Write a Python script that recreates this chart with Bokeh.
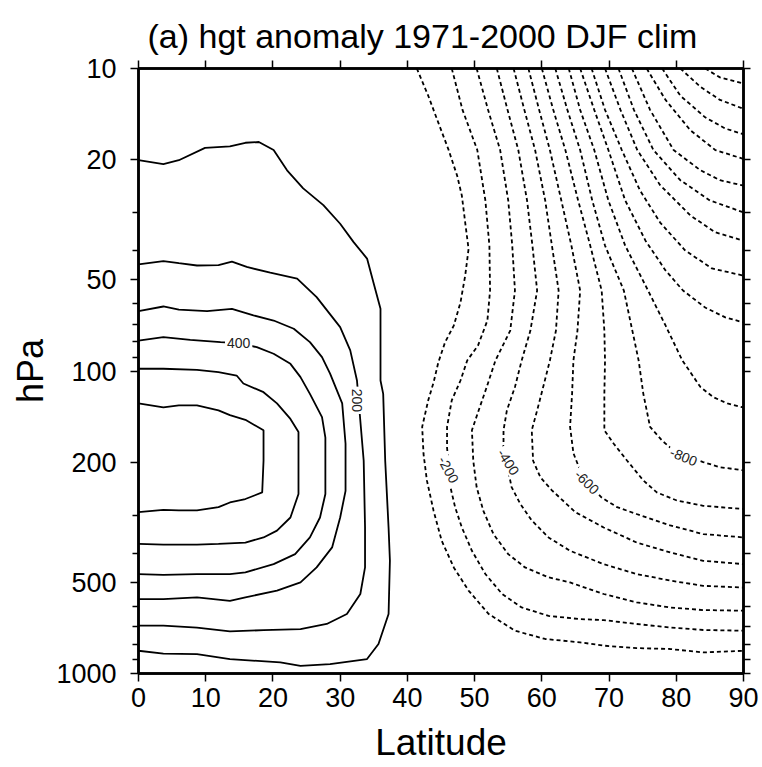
from bokeh.plotting import figure
from bokeh.models import (Range1d, FixedTicker, LinearAxis, LogAxis, ColumnDataSource,
                          PrintfTickFormatter)
from bokeh.embed import file_html
from bokeh.resources import INLINE
from bokeh.core.properties import value

# ---------------- data ----------------
x_ticks = [0, 10, 20, 30, 40, 50, 60, 70, 80, 90]
y_ticks = [10, 20, 50, 100, 200, 500, 1000]
y_minor = [30, 40, 60, 70, 80, 90, 300, 400, 600, 700, 800, 900]

# positive contours (solid) : latitude / pressure (hPa)
lat_p100 = [0, 3.7, 6.0, 9.9, 13.6, 15.9, 17.9, 20.1, 22.1, 24.5, 27.5, 30.0, 32.0, 34.0, 35.0, 36.0, 36.0,
            36.4, 36.7, 37.2, 37.4, 37.2, 35.7, 34.0, 28.5, 24.1, 21.1, 13.6, 8.7, 3.7, 0]
hpa_p100 = [20.1, 20.7, 20.1, 18.3, 18.1, 17.6, 17.5, 18.6, 21.7, 24.9, 28.3, 32.6, 37.5, 42.5, 51.5, 62.3, 107.5,
            119, 198, 329, 424, 636, 799, 896, 931, 943, 919, 896, 863, 859, 841]
lat_p200 = [0, 3.7, 6.0, 8.7, 11.9, 13.9, 16.1, 19.6, 23.6, 26.5, 30.0, 31.5, 32.5, 33.0, 33.5, 33.7, 33.7,
            33.0, 31.0, 28.0, 24.1, 18.6, 13.6, 8.7, 3.7, 0]
hpa_p200 = [44.4, 43.3, 44.0, 44.8, 44.7, 43.5, 45.3, 47.3, 49.5, 57.0, 71.6, 85.5, 107.5, 146, 198, 329, 446,
            546, 636, 686, 713, 719, 726, 705, 695, 695]
lat_p300 = [0, 3.7, 6.0, 10.2, 13.9, 17.1, 20.1, 23.1, 25.5, 27.3, 28.5, 30.3, 30.8, 30.8, 30.0, 28.8, 26.5,
            24.1, 20.6, 15.9, 13.6, 8.7, 3.7, 0]
hpa_p300 = [63.4, 61.2, 62.7, 63.4, 62.3, 65.5, 68.1, 72.5, 80.3, 90.0, 102, 128, 174, 249, 305, 383, 446,
            500, 532, 560, 575, 560, 568, 568]
lat_p400 = [0, 3.7, 7.7, 12.2, 14.9, 17.6, 20.1, 22.6, 24.1, 25.5, 27.3, 27.8, 27.8, 27.0, 25.5, 23.3, 20.1,
            15.9, 13.6, 8.7, 3.7, 0]
hpa_p400 = [79.3, 77.3, 78.9, 80.3, 80.9, 83.4, 87.7, 94.7, 104.8, 119, 142, 166, 255, 305, 355, 403, 435,
            463, 469, 469, 472, 469]
lat_p500 = [0, 3.7, 8.7, 11.9, 14.6, 15.6, 18.6, 20.6, 22.6, 23.8, 23.8, 22.6, 20.6, 18.6, 15.9, 11.9, 8.7, 3.7, 0]
hpa_p500 = [98.3, 98.3, 99.1, 100.9, 103.5, 110, 117.5, 128, 144, 159, 255, 305, 337, 355, 369, 373, 375, 375, 373]
lat_p600 = [0, 3.7, 6.0, 8.7, 11.9, 13.6, 15.9, 18.6, 18.6, 18.4, 15.9, 13.6, 11.9, 8.7, 6.0, 3.7, 0]
hpa_p600 = [128, 132, 130, 130, 135, 140, 145, 157, 198, 252, 265, 272, 282, 289, 289, 288, 293]

# negative contours (dashed)
lat_n100 = [41.4, 43.1, 44.6, 46.1, 47.4, 48.1, 48.6, 49.1, 48.6, 47.9, 46.9, 45.6, 44.6, 43.9, 43.1, 42.2, 42.4,
            42.9, 43.9, 45.1, 46.9, 49.1, 52.1, 56.0, 60.5, 65.7, 69.2, 74.1, 79.1, 84.0, 90]
hpa_n100 = [10, 12.3, 15.1, 18.5, 22.6, 26.3, 32.3, 39.5, 48.4, 59.3, 70.8, 80.4, 93.7, 109, 125, 153, 188,
            230, 290, 364, 446, 532, 636, 722, 769, 789, 809, 824, 830, 852, 841]
lat_n200 = [46.6, 48.2, 50.4, 51.6, 52.2, 52.3, 51.9, 50.5, 48.9, 47.9, 46.6, 45.9, 45.9, 46.4, 47.1, 48.1, 49.6,
            51.6, 54.1, 57.0, 61.0, 65.7, 69.2, 74.1, 79.1, 84.0, 90]
hpa_n200 = [10, 13.7, 18.6, 27.3, 38.5, 54.2, 68.1, 82.4, 92.3, 107.5, 125, 153, 179, 242, 282, 329, 393,
            469, 546, 605, 645, 661, 666, 686, 705, 718, 722]
lat_n300 = [50.3, 52.0, 53.8, 55.0, 55.6, 56.0, 55.3, 53.1, 51.8, 50.6, 49.6, 49.8, 50.3, 51.3, 52.8, 55.0, 57.5,
            61.0, 64.2, 69.2, 74.1, 79.1, 84.0, 90]
hpa_n300 = [10, 13.7, 18.6, 27.3, 38.5, 54.2, 73.5, 92.3, 113, 135, 157, 198, 242, 290, 346, 403, 446,
            481, 500, 546, 582, 605, 617, 620]
lat_n400 = [53.3, 54.9, 56.5, 57.8, 58.6, 59.3, 58.3, 57.0, 56.0, 54.8, 54.3, 54.3, 55.5, 56.8, 58.5, 61.0, 64.2,
            69.2, 74.1, 79.1, 84.0, 90]
hpa_n400 = [10, 13.7, 18.6, 27.3, 38.5, 54.2, 73.5, 92.3, 113, 135, 157, 179, 242, 275, 312, 355, 393,
            435, 469, 493, 513, 520]
lat_n500 = [55.8, 57.4, 59.0, 60.5, 61.5, 62.5, 62.1, 61.2, 60.2, 59.3, 58.5, 58.7, 59.8, 61.5, 65.0, 69.2, 74.1,
            79.1, 84.0, 90]
hpa_n500 = [10, 13.7, 18.6, 27.3, 38.5, 54.2, 73.5, 92.3, 113, 135, 157, 198, 225, 248, 293, 329, 369,
            398, 424, 435]
lat_n600 = [58.0, 59.6, 61.2, 62.9, 64.4, 65.7, 65.3, 64.7, 64.5, 64.2, 64.7, 65.7, 66.7, 68.9, 71.2, 74.1, 79.1,
            84.0, 90]
hpa_n600 = [10, 13.7, 18.6, 27.3, 38.5, 54.2, 73.5, 92.3, 119, 153, 187, 213, 233, 262, 282, 297, 324, 346, 355]
lat_n700 = [60.0, 61.7, 63.5, 65.4, 67.2, 68.9, 69.3, 69.4, 69.3, 69.3, 70.7, 72.7, 75.1, 77.1, 80.1, 84.0, 90]
hpa_n700 = [10, 13.7, 18.6, 27.3, 38.5, 54.2, 73.5, 92.3, 119, 157, 174, 198, 230, 252, 268, 279, 286]
lat_n800 = [62.0, 63.8, 65.7, 67.5, 69.4, 72.2, 73.3, 74.4, 75.1, 76.1, 77.9, 79.1, 81.1, 84.0, 86.5, 90]
hpa_n800 = [10, 13.7, 18.6, 27.3, 38.5, 54.2, 70.7, 92.3, 119, 153, 170, 179, 190, 200, 208, 213]
lat_n900 = [64.0, 65.7, 67.8, 69.9, 72.4, 75.8, 78.4, 80.9, 83.6, 85.5, 87.6, 90]
hpa_n900 = [10, 13.7, 18.6, 27.3, 38.5, 54.2, 70.7, 92.3, 113, 122, 128, 132]
lat_n1000 = [65.7, 67.8, 69.9, 72.4, 75.4, 78.4, 81.0, 84.3, 87.3, 90]
hpa_n1000 = [10, 13.7, 18.6, 27.3, 37.0, 46.5, 54.2, 61.7, 66.5, 69.1]
lat_n1100 = [67.4, 69.4, 71.9, 74.6, 77.6, 81.3, 85.3, 90]
hpa_n1100 = [10, 13.7, 18.6, 25.3, 32.3, 39.9, 45.8, 48.4]
lat_n1200 = [69.4, 71.7, 74.2, 77.6, 82.1, 85.8, 90]
hpa_n1200 = [10, 13.7, 18.6, 24.3, 30.6, 34.8, 37.1]
lat_n1300 = [71.4, 73.7, 76.6, 80.6, 85.0, 90]
hpa_n1300 = [10, 13.7, 18.6, 23.4, 27.3, 29.9]
lat_n1400 = [73.4, 76.1, 79.6, 83.6, 86.5, 90]
hpa_n1400 = [10, 13.7, 18.6, 21.7, 23.4, 24.4]
lat_n1500 = [75.6, 78.4, 82.1, 85.8, 90]
hpa_n1500 = [10, 12.7, 16.0, 18.6, 19.9]
lat_n1600 = [77.9, 80.6, 84.3, 87.3, 90]
hpa_n1600 = [10, 12.3, 14.5, 15.8, 16.5]
lat_n1700 = [80.6, 83.6, 86.5, 90]
hpa_n1700 = [10, 11.5, 12.7, 13.6]
lat_n1800 = [84.3, 86.5, 90]
hpa_n1800 = [10, 10.7, 11.2]

# contour labels
label_text = ["400", "200", "-200", "-400", "-600", "-800"]
label_lat = [14.9, 32.5, 46.1, 55.0, 66.7, 81.1]
label_hpa = [80.9, 125, 212, 200, 233, 192]
label_angle = [0, -90, -62, -57, -45, -22]

pos_lat = [lat_p100, lat_p200, lat_p300, lat_p400, lat_p500, lat_p600]
pos_hpa = [hpa_p100, hpa_p200, hpa_p300, hpa_p400, hpa_p500, hpa_p600]
neg_lat = [lat_n100, lat_n200, lat_n300, lat_n400, lat_n500, lat_n600, lat_n700, lat_n800, lat_n900,
           lat_n1000, lat_n1100, lat_n1200, lat_n1300, lat_n1400, lat_n1500, lat_n1600, lat_n1700, lat_n1800]
neg_hpa = [hpa_n100, hpa_n200, hpa_n300, hpa_n400, hpa_n500, hpa_n600, hpa_n700, hpa_n800, hpa_n900,
           hpa_n1000, hpa_n1100, hpa_n1200, hpa_n1300, hpa_n1400, hpa_n1500, hpa_n1600, hpa_n1700, hpa_n1800]

FONT = "Liberation Sans"

p = figure(width=762, height=767, x_range=Range1d(0, 90), y_range=Range1d(1000, 10),
           y_axis_type="log", output_backend="svg", toolbar_location=None,
           min_border_left=138, min_border_right=19, min_border_top=68, min_border_bottom=94,
           title="(a) hgt anomaly 1971-2000 DJF clim")
p.xgrid.visible = False
p.ygrid.visible = False
p.outline_line_color = "black"
p.outline_line_width = 2.5
p.background_fill_color = "white"
p.border_fill_color = "white"

p.title.text_font = FONT
p.title.text_font_size = "34px"
p.title.text_font_style = "normal"
p.title.text_color = "black"
p.title.align = "left"
p.title.offset = 9
p.title.standoff = 12


def style_axis(ax):
    ax.axis_line_width = 2.5
    ax.axis_line_color = "black"
    ax.major_tick_in = 0
    ax.major_tick_out = 8
    ax.minor_tick_in = 0
    ax.minor_tick_out = 6
    ax.major_tick_line_width = 1.5
    ax.minor_tick_line_width = 1.5
    ax.major_tick_line_color = "black"
    ax.minor_tick_line_color = "black"
    ax.major_label_text_font = FONT
    ax.major_label_text_color = "black"
    ax.major_label_text_font_size = "27px"


xb = p.xaxis[0]
xb.ticker = FixedTicker(ticks=x_ticks)
style_axis(xb)
xb.major_label_standoff = 6
xb.axis_label = "Latitude"
xb.axis_label_text_font = FONT
xb.axis_label_text_font_size = "37px"
xb.axis_label_text_font_style = "normal"
xb.axis_label_text_color = "black"
xb.axis_label_standoff = 12

yl = p.yaxis[0]
yl.ticker = FixedTicker(ticks=y_ticks, minor_ticks=y_minor)
yl.formatter = PrintfTickFormatter(format="%d")
style_axis(yl)
yl.major_label_standoff = 14
yl.axis_label = "hPa"
yl.axis_label_text_font = FONT
yl.axis_label_text_font_size = "36px"
yl.axis_label_text_font_style = "normal"
yl.axis_label_text_color = "black"
yl.axis_label_standoff = 2

# top and right axes: tick marks only (drawn as unlabeled minor ticks)
xt = LinearAxis(ticker=FixedTicker(ticks=[], minor_ticks=x_ticks))
style_axis(xt)
xt.minor_tick_out = 8
xt.major_label_standoff = 0
p.add_layout(xt, "above")

yr = LogAxis(ticker=FixedTicker(ticks=[], minor_ticks=y_ticks + y_minor))
style_axis(yr)
yr.minor_tick_out = 7
yr.major_label_standoff = 0
p.add_layout(yr, "right")

p.multi_line(xs=pos_lat, ys=pos_hpa, line_color="black", line_width=1.8)
p.multi_line(xs=neg_lat, ys=neg_hpa, line_color="black", line_width=1.8, line_dash="4 3")

lab_src = ColumnDataSource(dict(x=label_lat, y=label_hpa, t=label_text, a=label_angle))
p.text(x="x", y="y", text="t", angle="a", angle_units="deg", source=lab_src,
       text_align="center", text_baseline="middle", text_font=value(FONT),
       text_font_size="14px", text_color="#222222",
       background_fill_color="white", padding=2)

open("out.html", "w").write(file_html(p, INLINE))
